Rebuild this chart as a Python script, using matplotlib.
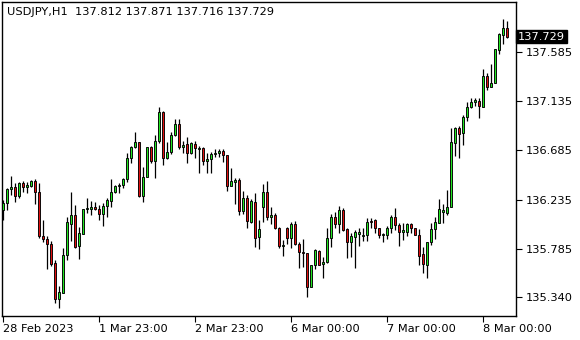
import matplotlib
matplotlib.use("Agg")
import matplotlib.pyplot as plt
import numpy as np

# hourly USDJPY bars
OPEN = [
    136.139, 136.203, 136.332, 136.350, 136.267, 136.387, 136.350, 136.359, 136.405, 136.304,
    135.901, 135.873, 135.827, 135.653, 135.323, 135.378, 135.727, 136.011, 136.093, 135.809,
    135.919, 136.148, 136.148, 136.167, 136.148, 136.102, 136.176, 136.222, 136.304, 136.359,
    136.368, 136.423, 136.616, 136.717, 136.762, 136.267, 136.442, 136.717, 136.588, 136.772,
    137.037, 136.616, 136.671, 136.827, 136.927, 136.717, 136.744, 136.662, 136.744, 136.698,
    136.707, 136.588, 136.607, 136.652, 136.662, 136.680, 136.643, 136.359, 136.396, 136.414,
    136.130, 136.249, 136.029, 136.212, 135.892, 136.167, 136.304, 136.075, 136.093, 135.974,
    135.809, 135.974, 135.882, 136.011, 135.827, 135.754, 135.745, 135.433, 135.635, 135.763,
    135.644, 135.663, 135.882, 136.075, 136.011, 136.139, 135.965, 135.846, 135.892, 135.919,
    135.901, 135.910, 136.038, 136.047, 135.974, 135.910, 135.910, 135.974, 136.075, 136.002,
    135.937, 135.937, 136.011, 135.974, 135.910, 135.736, 135.635, 135.846, 135.965, 136.020,
    136.121, 136.112, 136.167, 136.753, 136.891, 136.845, 136.992, 137.083, 137.129, 137.138,
    137.083, 137.367, 137.267, 137.303, 137.606, 137.743, 137.812,
]
HIGH = [
    136.231, 136.341, 136.451, 136.387, 136.396, 136.405, 136.396, 136.414, 136.423, 136.387,
    136.047, 135.901, 135.855, 135.681, 135.443, 135.791, 136.075, 136.304, 136.185, 135.983,
    136.148, 136.249, 136.222, 136.212, 136.185, 136.203, 136.249, 136.423, 136.368, 136.387,
    136.432, 136.662, 136.726, 136.854, 136.762, 136.533, 136.717, 136.726, 136.827, 137.083,
    137.047, 136.762, 136.854, 136.973, 136.973, 136.772, 136.808, 136.762, 136.772, 136.726,
    136.717, 136.662, 136.671, 136.698, 136.698, 136.698, 136.643, 136.524, 136.432, 136.432,
    136.313, 136.277, 136.240, 136.295, 136.047, 136.377, 136.405, 136.167, 136.112, 135.983,
    135.864, 135.983, 136.029, 136.038, 135.846, 135.873, 135.745, 135.635, 135.782, 135.772,
    135.708, 135.974, 136.102, 136.121, 136.176, 136.157, 135.974, 135.928, 135.956, 135.974,
    135.974, 136.066, 136.066, 136.057, 135.974, 135.928, 135.992, 136.093, 136.157, 136.020,
    136.020, 136.020, 136.020, 135.974, 135.965, 135.800, 135.846, 136.020, 136.075, 136.240,
    136.194, 136.322, 136.891, 136.900, 136.909, 137.010, 137.129, 137.166, 137.166, 137.166,
    137.432, 137.395, 137.477, 137.615, 137.762, 137.890, 137.871,
]
LOW = [
    136.047, 136.139, 136.277, 136.212, 136.249, 136.304, 136.295, 136.350, 136.194, 135.882,
    135.846, 135.598, 135.626, 135.287, 135.241, 135.378, 135.681, 135.855, 135.791, 135.690,
    135.919, 136.112, 136.093, 136.139, 136.047, 135.992, 136.075, 136.167, 136.295, 136.295,
    136.341, 136.396, 136.570, 136.707, 136.258, 136.212, 136.442, 136.570, 136.432, 136.753,
    136.552, 136.607, 136.652, 136.817, 136.698, 136.662, 136.570, 136.652, 136.616, 136.478,
    136.552, 136.478, 136.478, 136.625, 136.625, 136.579, 136.313, 136.359, 136.194, 136.093,
    136.102, 135.974, 136.020, 135.800, 135.782, 136.029, 136.047, 136.011, 135.965, 135.791,
    135.717, 135.827, 135.791, 135.818, 135.607, 135.617, 135.342, 135.433, 135.598, 135.635,
    135.516, 135.653, 135.800, 135.974, 135.928, 135.947, 135.699, 135.708, 135.607, 135.809,
    135.855, 135.855, 135.974, 135.928, 135.882, 135.846, 135.873, 135.928, 135.956, 135.809,
    135.864, 135.901, 135.928, 135.910, 135.635, 135.562, 135.516, 135.818, 135.873, 136.020,
    136.020, 136.093, 136.167, 136.634, 136.616, 136.735, 136.955, 137.074, 137.092, 136.982,
    137.083, 137.239, 137.267, 137.303, 137.569, 137.661, 137.716,
]
CLOSE = [
    136.203, 136.332, 136.350, 136.267, 136.387, 136.350, 136.368, 136.405, 136.304, 135.901,
    135.873, 135.827, 135.644, 135.323, 135.388, 135.727, 136.029, 136.093, 135.800, 135.928,
    136.148, 136.157, 136.167, 136.148, 136.102, 136.176, 136.231, 136.304, 136.359, 136.368,
    136.423, 136.616, 136.717, 136.762, 136.267, 136.442, 136.717, 136.588, 136.772, 137.037,
    136.616, 136.671, 136.827, 136.927, 136.717, 136.735, 136.662, 136.753, 136.707, 136.707,
    136.588, 136.607, 136.652, 136.662, 136.680, 136.643, 136.359, 136.405, 136.414, 136.130,
    136.249, 136.038, 136.222, 135.882, 135.965, 136.304, 136.075, 136.093, 135.974, 135.809,
    135.818, 135.882, 136.011, 135.827, 135.754, 135.745, 135.433, 135.635, 135.772, 135.635,
    135.663, 135.882, 136.075, 136.011, 136.139, 135.956, 135.846, 135.901, 135.937, 135.937,
    135.910, 136.029, 136.029, 135.974, 135.910, 135.919, 135.974, 136.075, 136.002, 135.937,
    135.956, 136.011, 135.974, 135.910, 135.717, 135.644, 135.846, 135.965, 136.029, 136.148,
    136.139, 136.167, 136.762, 136.891, 136.836, 136.992, 137.083, 137.129, 137.147, 137.092,
    137.367, 137.267, 137.303, 137.615, 137.752, 137.807, 137.729,
]

PRICE_TICKS = [137.585, 137.135, 136.685, 136.235, 135.785, 135.340]
TIME_TICK_BARS = [0, 24, 48, 72, 96, 120]
TIME_LABELS = ["28 Feb 2023", "1 Mar 23:00", "2 Mar 23:00",
               "6 Mar 00:00", "7 Mar 00:00", "8 Mar 00:00"]
HEADER = "USDJPY,H1  137.812 137.871 137.716 137.729"
LAST_PRICE = 137.729

BULL = "#22e622"
BEAR = "#e01010"

W, H = 580, 340
fig = plt.figure(figsize=(W / 100, H / 100), dpi=100)
fig.patch.set_facecolor("white")
ax = fig.add_axes([2 / W, (H - 316) / H, 514 / W, 314 / H])

o = np.array(OPEN)
c = np.array(CLOSE)
x = np.arange(len(o))
up = c >= o

ax.vlines(x, LOW, HIGH, color="black", linewidth=0.9, zorder=2)
ax.bar(x, np.abs(c - o), bottom=np.minimum(o, c), width=0.6,
       color=np.where(up, BULL, BEAR), edgecolor="black",
       linewidth=0.65, zorder=3)

ax.set_xlim(-0.25, 128.25)
ax.set_ylim(135.168, 138.046)

for s in ax.spines.values():
    s.set_color("black")
    s.set_linewidth(1.0)

ax.yaxis.tick_right()
ax.set_yticks(PRICE_TICKS)
ax.set_yticklabels([f"{v:.3f}" for v in PRICE_TICKS])
ax.tick_params(axis="y", length=4, width=0.8, pad=3, labelsize=8.2,
               colors="black")

ax.set_xticks(TIME_TICK_BARS)
ax.set_xticklabels(TIME_LABELS, ha="left")
ax.tick_params(axis="x", length=4, width=0.8, pad=2, labelsize=8.2,
               colors="black")

ax.text(0.01, 0.985, HEADER, transform=ax.transAxes, ha="left", va="top",
        fontsize=8.2, color="black")

ax.text(1.004, LAST_PRICE, f"{LAST_PRICE:.3f}",
        transform=ax.get_yaxis_transform(), ha="left", va="center",
        fontsize=8.2, color="white",
        bbox=dict(boxstyle="square,pad=0.15", facecolor="black",
                  edgecolor="black"))

fig.savefig("out.png", dpi=100)
